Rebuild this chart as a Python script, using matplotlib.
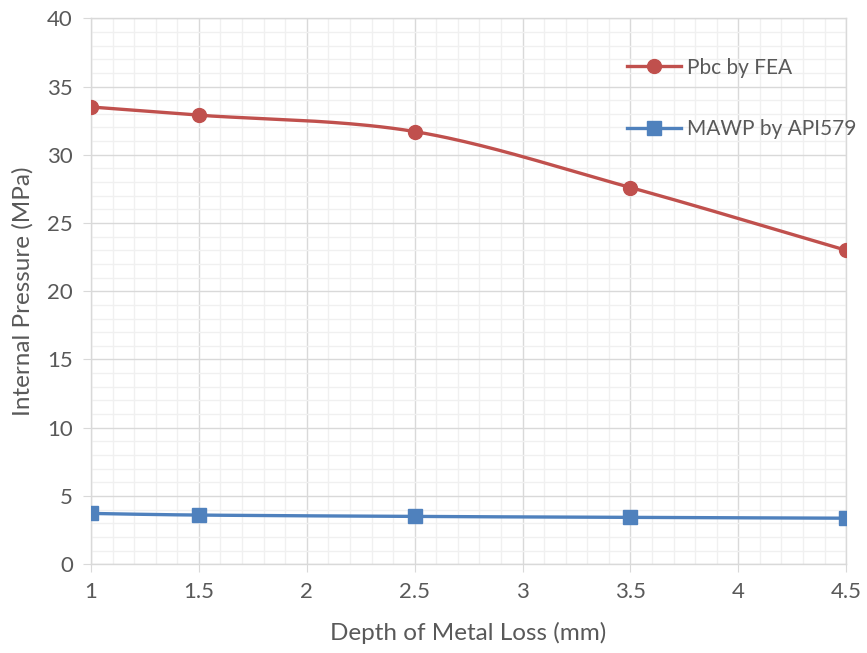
import numpy as np
import matplotlib
matplotlib.use("Agg")
import matplotlib.pyplot as plt
from matplotlib.ticker import MultipleLocator

# data
depth = [1.0, 1.5, 2.5, 3.5, 4.5]
pbc_fea = [33.5, 32.9, 31.7, 27.6, 23.0]
mawp_api = [3.72, 3.6, 3.5, 3.43, 3.37]
x_ticks = [1, 1.5, 2, 2.5, 3, 3.5, 4, 4.5]
x_tick_labels = ['1', '1.5', '2', '2.5', '3', '3.5', '4', '4.5']


def smooth(x, y, n=40):
    # Catmull-Rom style curve through the points (like Excel smoothed line)
    x = np.asarray(x, float)
    y = np.asarray(y, float)
    px = np.concatenate([[2 * x[0] - x[1]], x, [2 * x[-1] - x[-2]]])
    py = np.concatenate([[2 * y[0] - y[1]], y, [2 * y[-1] - y[-2]]])
    xs, ys = [], []
    t = np.linspace(0, 1, n)
    for i in range(1, len(px) - 2):
        for arr, out in ((px, xs), (py, ys)):
            p0, p1, p2, p3 = arr[i - 1], arr[i], arr[i + 1], arr[i + 2]
            b1 = p1 + (p2 - p0) / 6
            b2 = p2 - (p3 - p1) / 6
            out.extend((1 - t) ** 3 * p1 + 3 * (1 - t) ** 2 * t * b1
                       + 3 * (1 - t) * t ** 2 * b2 + t ** 3 * p2)
    return xs, ys


plt.rcParams['font.family'] = ['Lato', 'DejaVu Sans']
text_col = '#595959'
fs = 16

fig = plt.figure(figsize=(8.67, 6.53), dpi=100)
ax = fig.add_axes([0.105, 0.136, 0.871, 0.836])

red = '#C0504D'
blue = '#4F81BD'

sx, sy = smooth(depth, pbc_fea)
ax.plot(sx, sy, color=red, lw=2.4, zorder=3)
ax.plot(depth, pbc_fea, 'o', color=red, ms=10, zorder=4)
sx, sy = smooth(depth, mawp_api)
ax.plot(sx, sy, color=blue, lw=2.4, zorder=3)
ax.plot(depth, mawp_api, 's', color=blue, ms=9.5, zorder=4)

# legend handles
ax.plot([], [], '-o', color=red, lw=2.4, ms=10, label='Pbc by FEA')
ax.plot([], [], '-s', color=blue, lw=2.4, ms=9.5, label='MAWP by API579')

ax.set_xlim(1, 4.5)
ax.set_ylim(0, 40)
ax.xaxis.set_minor_locator(MultipleLocator(0.1))
ax.yaxis.set_major_locator(MultipleLocator(5))
ax.yaxis.set_minor_locator(MultipleLocator(1))
ax.set_xticks(x_ticks)
ax.set_xticklabels(x_tick_labels)

ax.grid(which='major', color='#D9D9D9', lw=1.0, zorder=1)
ax.grid(which='minor', color='#F0F0F0', lw=1.0, zorder=0)
ax.set_axisbelow(True)
for s in ax.spines.values():
    s.set_color('#D9D9D9')
    s.set_linewidth(1.0)
ax.tick_params(which='major', length=6, color='#D9D9D9', labelcolor=text_col,
               labelsize=fs, pad=7)
ax.tick_params(which='minor', length=0)

ax.set_xlabel('Depth of Metal Loss (mm)', color=text_col, fontsize=17.5, labelpad=14)
ax.set_ylabel('Internal Pressure (MPa)', color=text_col, fontsize=17.5, labelpad=10)

leg = ax.legend(loc='upper left', bbox_to_anchor=(0.685, 0.962), frameon=False,
                fontsize=15, labelspacing=2.0, handlelength=2.6,
                handletextpad=0.3, labelcolor=text_col)

fig.savefig('out.png', dpi=100, facecolor='white')
